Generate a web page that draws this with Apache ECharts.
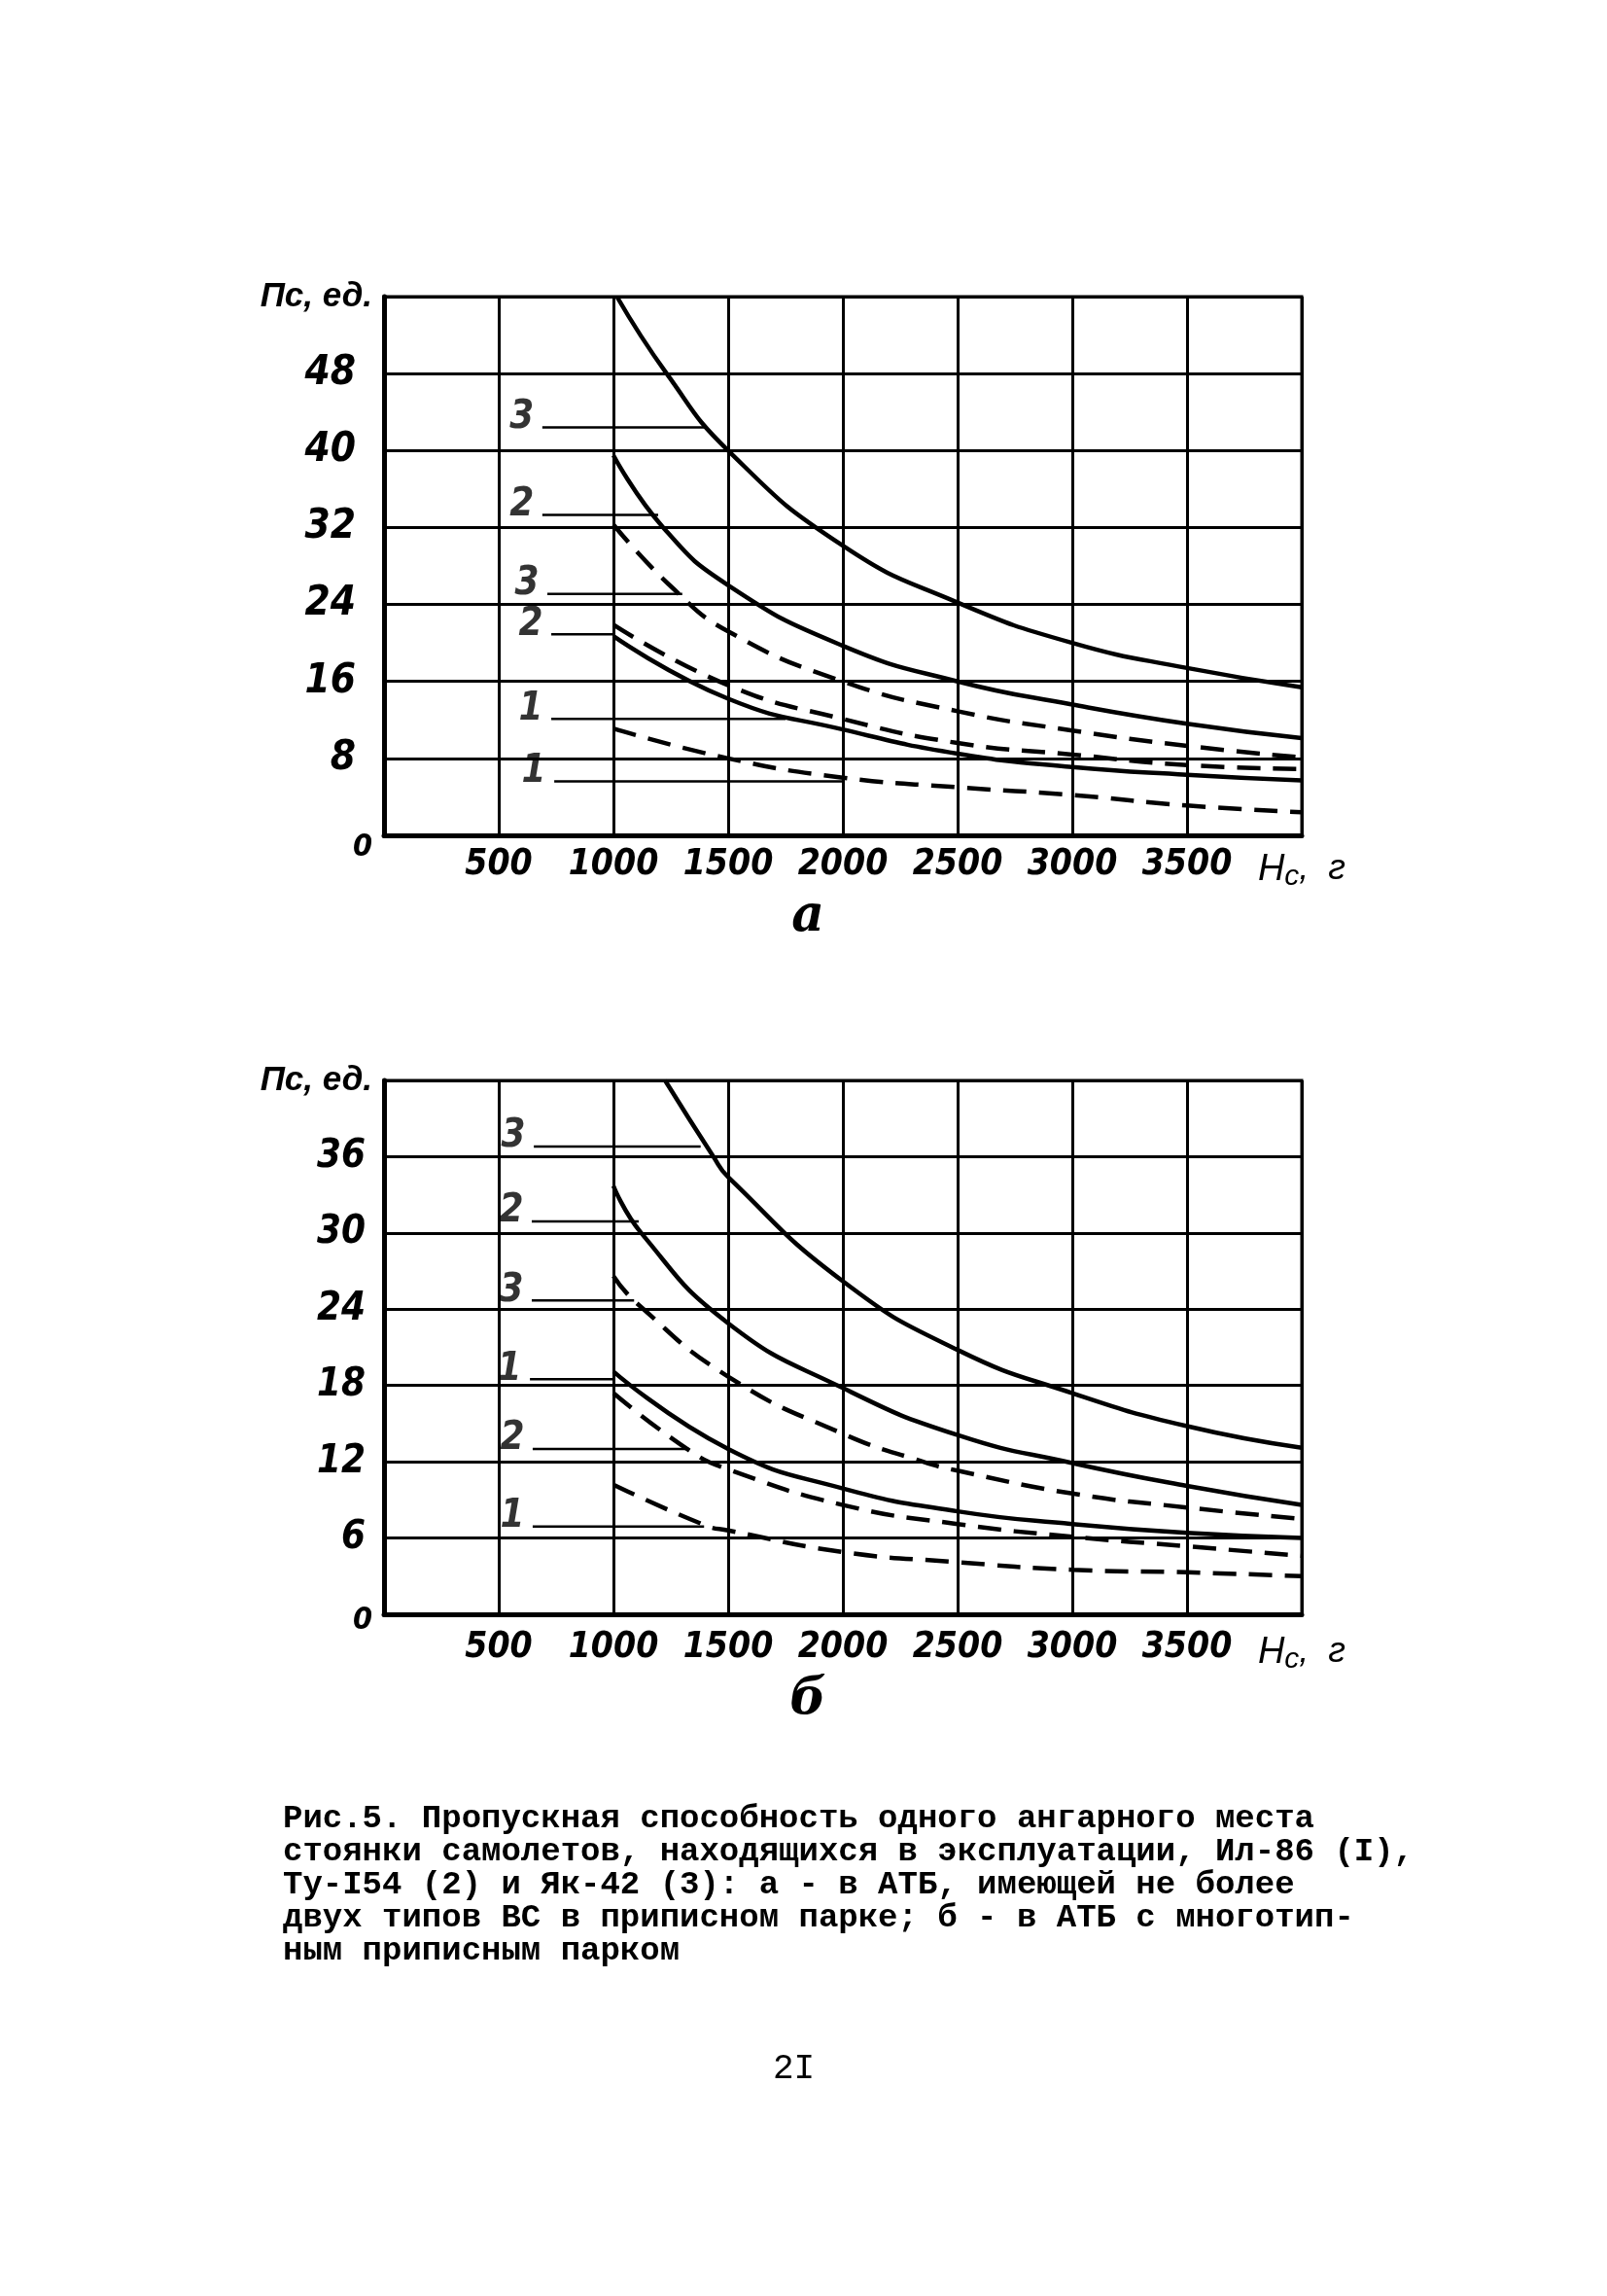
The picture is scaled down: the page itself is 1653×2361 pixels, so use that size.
<!DOCTYPE html>
<html><head><meta charset="utf-8">
<script src="https://cdn.jsdelivr.net/npm/echarts/dist/echarts.min.js"></script>
<style>html,body{margin:0;padding:0;background:#fff}#c{width:1653px;height:2361px}</style>
</head><body><div id="c"></div>
<script>
// ---------- DATA ----------
// x: Hc, hours ; y: Пс, units
const xTickLabels = ['', '500', '1000', '1500', '2000', '2500', '3000', '3500', 'Hc, г'];
const aYTickLabels = ['0', '8', '16', '24', '32', '40', '48', 'Пс, ед.'];
const bYTickLabels = ['0', '6', '12', '18', '24', '30', '36', 'Пс, ед.'];

// chart а
const a_yak42_solid = [[1015,56],[1232,48],[1500,40],[2000,30.1],[2500,24.2],[3000,20],[3500,17.4],[4000,15.4]];
const a_tu154_solid = [[1000,39.5],[1217,32],[1500,26],[2000,19.7],[2500,16],[3000,13.6],[3500,11.6],[4000,10.1]];
const a_yak42_dash  = [[1000,32.3],[1254,25.8],[1500,21.2],[2000,16],[2500,12.9],[3000,10.9],[3500,9.3],[4000,8.1]];
const a_tu154_dash  = [[1000,21.9],[1500,15.6],[2000,12.1],[2500,9.6],[3000,8.4],[3500,7.3],[4000,6.9]];
const a_il86_solid  = [[1000,20.7],[1500,14.2],[2000,11],[2500,8.5],[3000,7.1],[3500,6.3],[4000,5.7]];
const a_il86_dash   = [[1000,11.1],[1500,8],[2000,6],[2500,5],[3000,4.2],[3500,3.1],[4000,2.4]];
const a_labelText = ['3','2','3','2','1','1'];
const a_labelY    = [42.4, 33.3, 25.1, 20.9, 12.1, 5.6];
const a_leadFrom  = [690, 690, 712, 729, 729, 742];
const a_leadTo    = [1400, 1195, 1300, 1000, 1750, 2000];

// chart б
const b_yak42_solid = [[1225,42],[1436,36],[1500,34.4],[2000,26.2],[2500,20.8],[3000,17.4],[3500,14.8],[4000,13.1]];
const b_tu154_solid = [[1000,33.7],[1121,30],[1500,22.9],[2000,17.8],[2500,14.1],[3000,11.9],[3500,10.1],[4000,8.6]];
const b_yak42_dash  = [[1000,26.6],[1100,24.5],[1500,18.7],[2000,14.2],[2350,12],[2500,11.3],[3000,9.5],[3500,8.4],[4000,7.5]];
const b_il86_solid  = [[1000,19.1],[1500,13],[2000,9.9],[2500,8.1],[3000,7.1],[3500,6.4],[4000,6.0]];
const b_tu154_dash  = [[1000,17.4],[1330,12.9],[1500,11.4],[2000,8.6],[2500,7.1],[3000,6.1],[3500,5.35],[4000,4.6]];
const b_il86_dash   = [[1000,10.2],[1400,7.0],[1500,6.6],[2000,4.9],[2500,4.1],[3000,3.5],[3500,3.3],[4000,3.0]];
const b_labelText = ['3','2','3','1','2','1'];
const b_labelY    = [36.8, 30.9, 24.7, 18.5, 13.0, 6.9];
const b_leadFrom  = [653, 644, 644, 636, 648, 648];
const b_leadTo    = [1380, 1110, 1090, 1000, 1330, 1395];

const captionLines = [
  'Рис.5. Пропускная способность одного ангарного места',
  'стоянки самолетов, находящихся в эксплуатации, Ил-86 (I),',
  'Ту-I54 (2) и Як-42 (3): а - в АТБ, имеющей не более',
  'двух типов ВС в приписном парке; б - в АТБ с многотип-',
  'ным приписным парком'
];
const pageNumber = '2I';
const panelNames = ['а', 'б'];

// ---------- STYLE / BUILD ----------
const HAND = "'Liberation Sans Narrow','DejaVu Sans Condensed','DejaVu Sans',sans-serif";
const BLACK = '#000';

function xAxisFor(i, gap, nameGap){
  return {
    type:'value', gridIndex:i, min:0, max:4000, interval:500,
    name: panelNames[i], nameLocation:'middle', nameGap: nameGap,
    nameTextStyle:{fontFamily:"'DejaVu Serif',serif", fontStyle:'italic', fontWeight:'bold', fontSize:52, color:BLACK, padding:[0,72,0,0]},
    axisLine:{show:true, onZero:false, lineStyle:{color:BLACK, width:5}},
    axisTick:{show:false},
    splitLine:{show:true, lineStyle:{color:BLACK, width:3}},
    axisLabel:{
      show:true, margin:gap, color:BLACK, fontFamily:HAND, fontStyle:'italic', fontWeight:'bold', fontSize:37,
      formatter: v => { const s = xTickLabels[Math.round(v/500)]; if (!s) return ''; if (v===4000) return '{h|H}{s|c}{t|,  г}'; return '{d|'+s+'}'; },
      rich:{
        d:{fontFamily:HAND, fontStyle:'italic', fontWeight:'bold', fontSize:37, color:BLACK},
        h:{fontFamily:"'Liberation Sans',sans-serif", fontStyle:'italic', fontWeight:'normal', fontSize:38, color:BLACK},
        s:{fontFamily:"'Liberation Sans',sans-serif", fontStyle:'italic', fontWeight:'normal', fontSize:30, color:BLACK, padding:[16,0,0,0]},
        t:{fontFamily:"'Liberation Sans',sans-serif", fontStyle:'italic', fontWeight:'normal', fontSize:36, color:BLACK}
      }
    }
  };
}
function yAxisFor(i, max, step, labels, digitSize, padR, zeroPad){
  return {
    type:'value', gridIndex:i, min:0, max:max, interval:step,
    axisLine:{show:true, onZero:false, lineStyle:{color:BLACK, width:5}},
    axisTick:{show:false},
    splitLine:{show:true, lineStyle:{color:BLACK, width:3}},
    axisLabel:{
      show:true, margin:12, color:BLACK, fontFamily:HAND, fontStyle:'italic', fontWeight:'bold', fontSize:digitSize,
      formatter: v => { const s = labels[Math.round(v/step)]; if (v===max) return '{n|'+s+'}'; if (v===0) return '{z|'+s+'}'; return '{d|'+s+'}'; },
      rich:{
        d:{fontFamily:HAND, fontStyle:'italic', fontWeight:'bold', fontSize:digitSize, color:BLACK, padding:[0,padR,0,0]},
        z:{fontFamily:HAND, fontStyle:'italic', fontWeight:'bold', fontSize:32, color:BLACK, padding:[zeroPad,0,0,0]},
        n:{fontFamily:"'Liberation Sans',sans-serif", fontStyle:'italic', fontWeight:'bold', fontSize:35, color:BLACK}
      }
    }
  };
}
function curve(i, data, dashed){
  return {type:'line', xAxisIndex:i, yAxisIndex:i, data:data, smooth:0.5, showSymbol:false, silent:true,
    lineStyle:{color:BLACK, width:4.5, type: dashed ? [24,13] : 'solid', cap:'butt'}, z:5};
}
function leaders(i, text, ys, from, to){
  const out = [];
  for (let k=0;k<text.length;k++){
    out.push({type:'line', xAxisIndex:i, yAxisIndex:i, data:[[from[k],ys[k]],[to[k],ys[k]]], showSymbol:false, silent:true,
      lineStyle:{color:BLACK, width:2.5}, z:4});
  }
  out.push({type:'scatter', xAxisIndex:i, yAxisIndex:i, symbolSize:1, itemStyle:{color:'rgba(0,0,0,0)'}, silent:true,
    data: text.map((t,k)=>[from[k], ys[k], t]),
    label:{show:true, position:'left', distance:8, offset:[0,-10], formatter:p=>p.value[2],
      fontFamily:HAND, fontStyle:'italic', fontWeight:'bold', fontSize:40, color:BLACK}, z:6});
  return out;
}

const option = {
  backgroundColor:'#fff', animation:false,
  grid:[
    {left:395, top:305, width:944, height:554, show:true, borderColor:BLACK, borderWidth:3, containLabel:false, outerBoundsMode:'none'},
    {left:395, top:1111, width:944, height:549, show:true, borderColor:BLACK, borderWidth:3, containLabel:false, outerBoundsMode:'none'}
  ],
  xAxis:[xAxisFor(0, 12, 10), xAxisFor(1, 16, 46)],
  yAxis:[yAxisFor(0, 56, 8, aYTickLabels, 42, 17, 26), yAxisFor(1, 42, 6, bYTickLabels, 40, 7, 14)],
  title:[
    {text: captionLines.join('\n'), left:286, top:1848,
     textStyle:{fontFamily:"'Liberation Mono','DejaVu Sans Mono',monospace", fontSize:34, lineHeight:34, fontWeight:'bold', color:BLACK}},
    {text: pageNumber, left:790, top:2104,
     textStyle:{fontFamily:"'Liberation Mono','DejaVu Sans Mono',monospace", fontSize:36, fontWeight:'normal', color:BLACK}}
  ],
  series:[
    curve(0, a_yak42_solid, false), curve(0, a_tu154_solid, false), curve(0, a_yak42_dash, true),
    curve(0, a_tu154_dash, true), curve(0, a_il86_solid, false), curve(0, a_il86_dash, true),
    ...leaders(0, a_labelText, a_labelY, a_leadFrom, a_leadTo),
    curve(1, b_yak42_solid, false), curve(1, b_tu154_solid, false), curve(1, b_yak42_dash, true),
    curve(1, b_il86_solid, false), curve(1, b_tu154_dash, true), curve(1, b_il86_dash, true),
    ...leaders(1, b_labelText, b_labelY, b_leadFrom, b_leadTo)
  ]
};
const chart = echarts.init(document.getElementById('c'), null, {renderer:'canvas'});
chart.setOption(option);
</script></body></html>
